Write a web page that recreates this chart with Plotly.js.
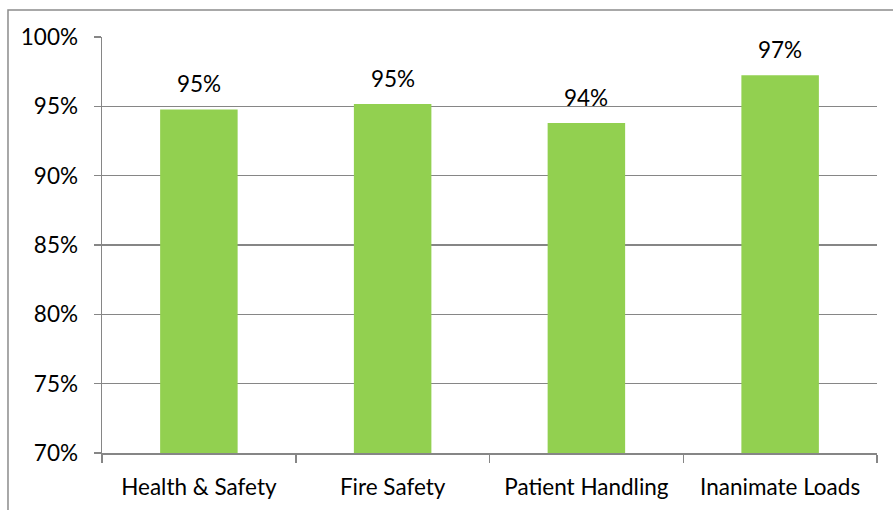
<!DOCTYPE html>
<html>
<head>
<meta charset="utf-8">
<script src="https://cdn.plot.ly/plotly-3.0.1.min.js"></script>
<style>html,body{margin:0;padding:0;background:#fff;}#chart{width:893px;height:510px;}</style>
</head>
<body>
<div id="chart"></div>
<script>
const categories = ["Health & Safety", "Fire Safety", "Patient Handling", "Inanimate Loads"];
const values = [0.9478, 0.9516, 0.9380, 0.9725];
const labels = ["95%", "95%", "94%", "97%"];
const yTicks = [0.70, 0.75, 0.80, 0.85, 0.90, 0.95, 1.00];
const yTickText = ["70%", "75%", "80%", "85%", "90%", "95%", "100%"];

const font = {family: "Lato, 'Open Sans', sans-serif", size: 22.5, color: "#000"};

const trace = {
  type: "bar",
  x: categories,
  y: values,
  marker: {color: "#92D050"},
  hoverinfo: "none"
};

const annotations = categories.map((c, i) => ({
  x: c, y: values[i], xref: "x", yref: "y",
  text: labels[i], showarrow: false, yanchor: "bottom", yshift: 10,
  font: font
}));

const layout = {
  width: 893, height: 510,
  margin: {l: 102, r: 16, t: 37, b: 57},
  paper_bgcolor: "#fff", plot_bgcolor: "#fff",
  bargap: 0.6,
  showlegend: false,
  font: font,
  xaxis: {
    type: "category",
    showline: true, linecolor: "#868686", linewidth: 1.5,
    ticks: "outside", ticklen: 8, tickcolor: "#868686", tickwidth: 1.5,
    tickson: "boundaries",
    showgrid: false,
    ticklabelstandoff: 13,
    tickfont: font
  },
  yaxis: {
    range: [0.70, 1.00],
    tickvals: yTicks, ticktext: yTickText,
    showline: true, linecolor: "#868686", linewidth: 1.5,
    ticks: "outside", ticklen: 7, tickcolor: "#868686", tickwidth: 1.5,
    showgrid: true, gridcolor: "#868686", gridwidth: 1.5,
    zeroline: false,
    ticklabelstandoff: 11,
    tickfont: font
  },
  annotations: annotations,
  shapes: [{
    type: "rect", xref: "paper", yref: "paper",
    x0: -0.1213, x1: 1.05, y0: -0.2, y1: 1.0649,
    line: {color: "#8c8c8c", width: 1.5}, fillcolor: "rgba(0,0,0,0)", layer: "below"
  }]
};

Plotly.newPlot("chart", [trace], layout, {staticPlot: true, displayModeBar: false});
</script>
</body>
</html>
